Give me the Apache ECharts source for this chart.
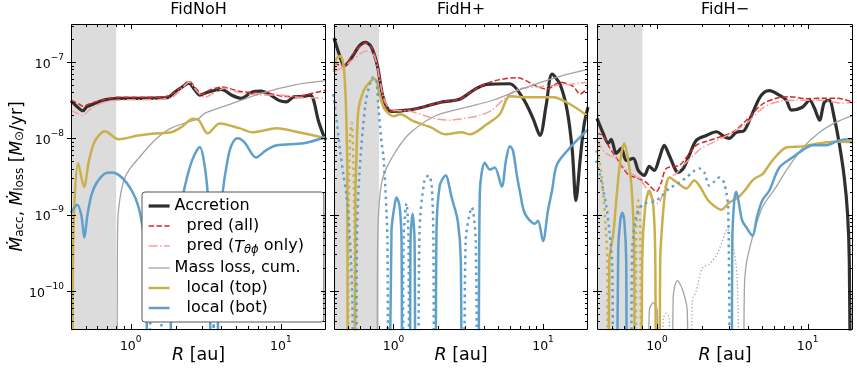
<!DOCTYPE html>
<html lang="en">
<head>
<meta charset="UTF-8" />
<title>Accretion and mass loss</title>
<script src="https://cdn.jsdelivr.net/npm/echarts@6/dist/echarts.min.js"></script>
<style>
  body { margin: 0; background: #fff; }
  #chart { width: 857px; height: 369px; }
</style>
</head>
<body>
<div id="chart"></div>
<script>
// values: [R (au), rate (Msun/yr)]
// 1e-13 = the curve crosses zero here (runs off the bottom of the log axis)
const titles = ['FidNoH', 'FidH+', 'FidH\u2212'];
const rRange = [0.4, 20];
const mRange = [3.16e-11, 3.16e-7];
const shadeR = [0.4, 0.8];
const xMajor = [1, 10];
const xMinor = [0.5, 0.6, 0.7, 0.8, 0.9, 2, 3, 4, 5, 6, 7, 8, 9];
const yMajor = [1e-10, 1e-9, 1e-8, 1e-7];
const yMinor = [4e-11, 5e-11, 6e-11, 7e-11, 8e-11, 9e-11, 2e-10, 3e-10, 4e-10, 5e-10, 6e-10, 7e-10, 8e-10, 9e-10,
  2e-9, 3e-9, 4e-9, 5e-9, 6e-9, 7e-9, 8e-9, 9e-9, 2e-8, 3e-8, 4e-8, 5e-8, 6e-8, 7e-8, 8e-8, 9e-8, 2e-7, 3e-7];

// ---- FidNoH ----
const noh_acc = [[0.4,3.1e-8],[0.44,2.6e-8],[0.48,2.3e-8],[0.51,2.6e-8],[0.56,2.8e-8],[0.67,3.2e-8],[0.81,3.35e-8],[1.16,3.35e-8],[1.58,3.4e-8],[1.78,3.45e-8],[1.95,4.0e-8],[2.2,4.7e-8],[2.44,5.3e-8],[2.68,4.3e-8],[2.89,3.7e-8],[3.21,4.0e-8],[4.03,4.4e-8],[4.69,3.7e-8],[5.46,3.35e-8],[6.35,4.0e-8],[7.39,4.15e-8],[8.34,3.8e-8],[9.7,3.15e-8],[10.9,3.0e-8],[12.2,3.5e-8],[14.2,3.55e-8],[15.7,3.7e-8],[16.5,3.2e-8],[17.8,1.7e-8],[19.5,1.03e-8],[20,9.5e-9]];
const noh_all = [[0.4,3.16e-8],[0.455,2.8e-8],[0.483,2.64e-8],[0.546,2.9e-8],[0.674,3.25e-8],[0.81,3.45e-8],[1.58,3.45e-8],[1.83,3.7e-8],[2.13,4.55e-8],[2.44,5.6e-8],[2.72,4.55e-8],[2.98,3.8e-8],[3.36,4.3e-8],[4.03,4.7e-8],[5.29,4.15e-8],[6.64,4.0e-8],[8.34,3.9e-8],[10.5,3.55e-8],[13.1,3.55e-8],[15.3,3.8e-8],[17.2,4.0e-8],[20,4.3e-8]];
const noh_tphi = [[0.4,2.35e-8],[0.441,2.13e-8],[0.476,2.0e-8],[0.53,2.35e-8],[0.635,2.9e-8],[0.81,3.16e-8],[1.58,3.25e-8],[1.89,3.45e-8],[2.2,4.55e-8],[2.44,5.45e-8],[2.76,4.15e-8],[3.11,3.45e-8],[3.62,4.0e-8],[4.22,4.55e-8],[5.29,4.0e-8],[7.17,3.7e-8],[9.7,3.7e-8],[13.1,3.45e-8],[20,3.36e-8]];
const noh_loss = [[0.808,1e-13],[0.815,3e-10],[0.822,9e-10],[0.846,1.6e-9],[0.9,2.8e-9],[0.97,3.8e-9],[1.13,5.5e-9],[1.44,9.4e-9],[1.86,1.36e-8],[2.84,1.83e-8],[3.11,2.13e-8],[4.41,2.72e-8],[7.39,3.9e-8],[12.2,5.0e-8],[20,5.7e-8]];
const noh_top = [[0.405,1e-13],[0.412,2e-10],[0.422,1.5e-9],[0.446,4.7e-9],[0.489,2.3e-9],[0.527,5.1e-9],[0.58,9.4e-9],[0.674,1.24e-8],[0.83,9.7e-9],[1.12,1.09e-8],[1.44,1.16e-8],[1.86,1.2e-8],[2.17,1.4e-8],[2.6,1.81e-8],[2.84,1.73e-8],[3.26,1.16e-8],[3.91,1.57e-8],[5.29,1.36e-8],[6.45,1.2e-8],[9.4,1.36e-8],[13.1,1.2e-8],[20,1.0e-8]];
const noh_bot = [[0.4,1.06e-9],[0.441,1.35e-9],[0.469,9.7e-10],[0.491,5.0e-10],[0.514,9.7e-10],[0.546,1.78e-9],[0.589,2.56e-9],[0.674,3.46e-9],[0.75,3.57e-9],[0.872,3.07e-9],[1.015,2.07e-9],[1.13,1.24e-9],[1.22,5.3e-10],[1.27,1.8e-10],[1.31,1e-13],[1.72,1e-13],[1.89,2.5e-10],[2.13,1.13e-9],[2.3,2.4e-9],[2.56,5.1e-9],[2.89,7.7e-9],[3.07,5.1e-9],[3.26,1.9e-9],[3.36,6.2e-10],[3.46,1e-13],[3.74,1e-13],[3.85,4.5e-10],[4.09,1.9e-9],[4.41,5.1e-9],[4.69,8.1e-9],[5.13,1.0e-8],[5.71,8.9e-9],[6.84,5.6e-9],[7.96,6.95e-9],[9.4,8.1e-9],[14.2,8.6e-9],[20,1.04e-8]];
const noh_bot_neg = [[1.31,1e-13],[1.35,3.8e-11],[1.48,4.5e-11],[1.6,3.8e-11],[1.65,1e-13],[3.46,1e-13],[3.57,3.8e-11],[3.68,1e-13]];

// ---- FidH+ ----
const hp_acc = [[0.4,2.07e-7],[0.435,1.24e-7],[0.469,8.9e-8],[0.523,1.13e-7],[0.591,1.63e-7],[0.649,1.81e-7],[0.712,1.57e-7],[0.781,8.9e-8],[0.844,3.7e-8],[0.911,2.48e-8],[0.97,2.26e-8],[1.24,2.34e-8],[1.61,2.6e-8],[2.1,3.0e-8],[2.77,3.26e-8],[3.5,4.4e-8],[4.21,5.1e-8],[6.0,5.2e-8],[7.34,3.36e-8],[8.57,1.83e-8],[9.55,1.09e-8],[10.5,2.72e-8],[11.5,6.95e-8],[13.0,5.1e-8],[14.5,2.34e-8],[15.7,6.95e-9],[16.6,1.53e-9],[17.7,5.1e-9],[18.8,1.48e-8],[20,2.56e-8]];
const hp_all = [[0.4,9.7e-8],[0.462,8.9e-8],[0.547,1.35e-7],[0.649,1.78e-7],[0.734,1.44e-7],[0.806,6.75e-8],[0.87,2.8e-8],[0.94,2.26e-8],[1.24,2.34e-8],[1.61,2.6e-8],[2.1,3.0e-8],[2.77,3.26e-8],[3.5,4.4e-8],[4.62,5.6e-8],[6.69,6.25e-8],[9.12,4.8e-8],[10.6,4.4e-8],[13.0,5.45e-8],[15.9,4.8e-8],[17.7,3.8e-8],[20,4.7e-8]];
const hp_tphi = [[0.4,7.6e-8],[0.462,8.6e-8],[0.539,1.09e-7],[0.659,1.4e-7],[0.745,1.2e-7],[0.857,3.46e-8],[0.955,2.41e-8],[1.3,2.26e-8],[1.85,1.83e-8],[2.38,1.73e-8],[3.0,1.83e-8],[3.78,2.0e-8],[4.55,2.34e-8],[5.56,3.36e-8],[6.8,4.4e-8],[10.0,4.8e-8],[15.2,5.1e-8],[17.7,5.3e-8],[20,5.45e-8]];
const hp_loss = [[0.775,1e-13],[0.781,2.5e-10],[0.793,9.7e-10],[0.818,2.07e-9],[0.857,3.26e-9],[0.97,5.46e-9],[1.24,1.09e-8],[1.88,1.95e-8],[2.86,2.48e-8],[4.62,3.16e-8],[7.81,4.7e-8],[13.0,6.5e-8],[20,8.0e-8]];
const hp_top = [[0.4,7.4e-8],[0.414,1.1e-7],[0.44,1.2e-7],[0.462,9.4e-8],[0.476,4.3e-8],[0.484,1.73e-8],[0.491,3.8e-9],[0.499,1e-13],[0.552,1e-13],[0.556,1.53e-9],[0.565,5.6e-9],[0.582,2.34e-8],[0.629,4.15e-8],[0.701,5.6e-8],[0.757,6.0e-8],[0.793,4.3e-8],[0.857,2.56e-8],[0.926,2.13e-8],[1.0,1.95e-8],[1.11,2.07e-8],[1.36,1.68e-8],[1.77,1.4e-8],[2.23,1.13e-8],[2.86,1.2e-8],[3.24,1.13e-8],[4.21,1.53e-8],[5.14,2.07e-8],[6.0,3.57e-8],[7.81,3.46e-8],[11.7,3.46e-8],[15.2,2.8e-8],[20,1.95e-8]];
const hp_top_neg = [[0.495,1e-13],[0.503,1.53e-9],[0.514,1.2e-8],[0.526,1.6e-8],[0.539,5.1e-9],[0.547,6.2e-10],[0.552,1e-13]];
const hp_bot = [[0.93,1e-13],[0.97,6.2e-10],[1.016,1.31e-9],[1.047,1.67e-9],[1.097,1.31e-9],[1.132,4.5e-10],[1.149,1e-13],[1.28,1e-13],[1.3,4.5e-10],[1.342,1.03e-9],[1.383,4.5e-10],[1.427,1e-13],[1.884,1e-13],[1.94,6.2e-10],[2.04,2.41e-9],[2.23,3.26e-9],[2.45,1.67e-9],[2.69,8.3e-10],[2.82,2.5e-10],[2.9,1e-13],[3.66,1e-13],[3.78,2.0e-9],[4.08,4.8e-9],[4.41,3.9e-9],[4.76,4.15e-9],[5.3,2.33e-9],[5.65,5.1e-9],[6.0,7.85e-9],[6.29,6.95e-9],[6.69,3.26e-9],[7.01,2.0e-9],[7.57,1.03e-9],[8.84,7.6e-10],[9.26,8.3e-10],[10.0,4.5e-10],[10.8,1.13e-9],[11.5,2.07e-9],[12.4,4.55e-9],[15.2,7.6e-9],[20,1.31e-8]];
const hp_bot_neg = [[0.396,3.8e-8],[0.414,1.89e-8],[0.44,6.75e-9],[0.462,3.36e-9],[0.484,1.83e-9],[0.507,6.2e-10],[0.531,7.4e-11],[0.539,1e-13],[0.56,1e-13],[0.569,4.5e-10],[0.591,3.36e-9],[0.649,2.8e-8],[0.701,5.45e-8],[0.734,6.35e-8],[0.769,5.6e-8],[0.793,2.56e-8],[0.831,9.1e-9],[0.857,5.6e-9],[0.884,2.07e-9],[0.911,4.5e-10],[0.933,1e-13],[1.149,1e-13],[1.167,4.5e-10],[1.222,1.4e-9],[1.261,4.5e-10],[1.28,1e-13],[1.427,1e-13],[1.494,6.2e-10],[1.61,2.8e-9],[1.718,3.26e-9],[1.8,2.41e-9],[1.85,4.5e-10],[1.884,1e-13],[2.9,1e-13],[3.04,4.5e-10],[3.34,1.24e-9],[3.55,4.5e-10],[3.66,1e-13]];

// ---- FidH- ----
const hm_acc = [[0.4,1.83e-8],[0.44,1.16e-8],[0.475,8.6e-9],[0.497,9.7e-9],[0.537,6.35e-9],[0.58,7.4e-9],[0.625,5.14e-9],[0.696,5.46e-9],[0.751,3.8e-9],[0.824,3.26e-9],[0.889,4.28e-9],[0.96,3.8e-9],[1.036,5.46e-9],[1.118,8.1e-9],[1.207,5.97e-9],[1.384,3.57e-9],[1.495,4.03e-9],[1.637,5.97e-9],[1.823,9.4e-9],[2.125,1.09e-8],[2.477,1.22e-8],[2.8,1.05e-8],[3.02,1.0e-8],[3.36,1.2e-8],[3.8,1.27e-8],[4.3,2.13e-8],[4.78,3.36e-8],[5.16,4.03e-8],[5.57,4.22e-8],[6.49,3.68e-8],[7.22,3.16e-8],[7.8,2.34e-8],[9.22,2.56e-8],[10.3,3.16e-8],[11.1,2.48e-8],[12.0,1.73e-8],[12.9,2.98e-8],[13.9,3.16e-8],[15.0,1.89e-8],[16.2,8.6e-9],[17.5,3.07e-9],[18.4,1.03e-9],[18.9,2.5e-10],[19.5,1e-13]];
const hm_all = [[0.4,1.16e-8],[0.44,1.09e-8],[0.483,7.6e-9],[0.537,5.6e-9],[0.597,4.03e-9],[0.655,3.26e-9],[0.729,3.07e-9],[0.849,2.64e-9],[0.917,2.26e-9],[0.99,2.01e-9],[1.068,2.64e-9],[1.153,4.03e-9],[1.406,4.42e-9],[1.566,5.6e-9],[1.823,8.1e-9],[2.125,9.1e-9],[2.8,1.09e-8],[3.26,1.24e-8],[3.92,1.73e-8],[5.0,2.8e-8],[6.2,3.36e-8],[7.56,3.52e-8],[9.8,3.31e-8],[12.5,3.36e-8],[15.5,3.36e-8],[20,2.98e-8]];
const hm_tphi = [[0.4,9.4e-9],[0.44,6.95e-9],[0.483,5.97e-9],[0.528,5.6e-9],[0.597,4.28e-9],[0.675,3.46e-9],[0.763,2.98e-9],[0.849,2.2e-9],[0.945,1.57e-9],[1.02,1.4e-9],[1.101,1.95e-9],[1.189,2.98e-9],[1.343,3.46e-9],[1.495,4.42e-9],[1.742,5.97e-9],[1.968,7.4e-9],[2.29,8.6e-9],[3.02,1.13e-8],[3.92,1.57e-8],[5.0,2.48e-8],[6.2,2.98e-8],[8.41,3.16e-8],[12.5,3.16e-8],[17.0,2.89e-8],[20,2.98e-8]];
const hm_loss = [[0.86,1e-13],[0.889,5.5e-11],[0.945,7.0e-11],[1.005,5.5e-11],[1.051,1e-13],[1.245,1e-13],[1.283,8.6e-11],[1.364,1.36e-10],[1.472,1.06e-10],[1.589,5.5e-11],[1.637,1e-13],[3.68,1e-13],[3.8,1.0e-10],[3.92,2.26e-10],[4.3,5.0e-10],[5.0,1.24e-9],[6.2,2.33e-9],[7.22,3.8e-9],[9.22,7.4e-9],[12.0,1.2e-8],[15.5,1.63e-8],[20,2.0e-8]];
const hm_loss_neg = [[1.051,1e-13],[1.101,4.3e-11],[1.153,5.1e-11],[1.207,4.3e-11],[1.245,1e-13],[1.637,1e-13],[1.715,7.4e-11],[1.823,1.0e-10],[2.0,2.0e-10],[2.225,2.26e-10],[2.477,2.9e-10],[2.715,4.5e-10],[2.93,6.5e-10],[3.16,4.5e-10],[3.41,1.4e-10],[3.63,1e-13]];
const hm_top = [[0.475,1e-13],[0.483,2.5e-10],[0.513,5.6e-10],[0.537,1.53e-9],[0.571,5.1e-9],[0.607,8.6e-9],[0.645,5.1e-9],[0.675,2.56e-9],[0.696,9.1e-10],[0.707,2.5e-10],[0.718,1e-13],[0.787,1e-13],[0.798,2.5e-10],[0.836,1.31e-9],[0.889,2.07e-9],[0.945,1.31e-9],[0.975,2.5e-10],[0.99,1e-13],[1.036,1e-13],[1.051,2.5e-10],[1.101,1.13e-9],[1.153,2.41e-9],[1.207,3.07e-9],[1.384,2.56e-9],[1.566,2.2e-9],[1.769,2.8e-9],[1.909,2.41e-9],[2.19,1.53e-9],[2.477,1.24e-9],[2.673,1.16e-9],[3.02,1.44e-9],[3.518,1.73e-9],[3.917,2.2e-9],[4.295,2.8e-9],[4.565,3.07e-9],[5.0,3.36e-9],[5.83,5.1e-9],[7.22,7.6e-9],[9.22,7.85e-9],[12.0,8.6e-9],[15.5,9.1e-9],[20,8.9e-9]];
const hm_top_neg = [[0.395,6.95e-9],[0.414,5.1e-9],[0.433,2.8e-9],[0.454,8.3e-10],[0.468,2.5e-10],[0.475,1e-13],[0.718,1e-13],[0.729,6.2e-10],[0.751,1.53e-9],[0.775,6.2e-10],[0.787,1e-13]];
const hm_bot = [[0.537,1e-13],[0.553,3.4e-10],[0.571,8.3e-10],[0.589,1.06e-9],[0.607,8.3e-10],[0.625,2.5e-10],[0.635,1e-13],[3.115,1e-13],[3.163,4.5e-10],[3.26,1.53e-9],[3.363,2.0e-9],[3.518,1.31e-9],[3.683,8.3e-10],[3.977,6.5e-10],[4.295,5.3e-10],[4.635,9.7e-10],[5.0,1.53e-9],[5.57,2.07e-9],[6.49,4.15e-9],[7.91,5.6e-9],[9.22,6.95e-9],[10.8,8.1e-9],[13.3,8.1e-9],[16.2,9.4e-9],[20,9.7e-9]];
const hm_bot_neg = [[0.395,5.1e-9],[0.414,3.57e-9],[0.44,2.07e-9],[0.461,1.31e-9],[0.483,6.2e-10],[0.505,2.1e-10],[0.52,1e-13],[0.655,1e-13],[0.685,3.4e-10],[0.718,8.3e-10],[0.751,1.13e-9],[0.824,1.4e-9],[0.96,1.48e-9],[1.068,1.73e-9],[1.207,2.2e-9],[1.406,2.64e-9],[1.566,3.07e-9],[1.742,3.68e-9],[1.909,4.03e-9],[2.06,3.57e-9],[2.225,2.41e-9],[2.366,2.64e-9],[2.593,3.07e-9],[2.8,2.56e-9],[2.974,1.13e-9],[3.067,1e-13]];

const panels = [
  { acc: noh_acc, all: noh_all, tphi: noh_tphi, loss: noh_loss, lossNeg: null, top: noh_top, topNeg: null, bot: noh_bot, botNeg: noh_bot_neg },
  { acc: hp_acc, all: hp_all, tphi: hp_tphi, loss: hp_loss, lossNeg: null, top: hp_top, topNeg: hp_top_neg, bot: hp_bot, botNeg: hp_bot_neg },
  { acc: hm_acc, all: hm_all, tphi: hm_tphi, loss: hm_loss, lossNeg: hm_loss_neg, top: hm_top, topNeg: hm_top_neg, bot: hm_bot, botNeg: hm_bot_neg }
];

const FONT = 'DejaVu Sans';
const gridLeft = [71, 334, 597];
const gridWidth = [255, 254, 256];
const C = { acc: '#2f2f2f', all: '#d62728', tphi: '#f3a09d', loss: '#a3a3a3', top: '#c9b04b', bot: '#5e9fcb' };
const W = { acc: 3.2, all: 1.5, tphi: 1.5, loss: 1.3, top: 2.5, bot: 2.5 };
const NAMES = ['Accretion', 'pred (all)', 'pred (T\u03b8\u03d5 only)', 'Mass loss, cum.', 'local (top)', 'local (bot)'];
const KEYS = ['acc', 'all', 'tphi', 'loss', 'top', 'bot'];

function powLabel(v) {
  const l = Math.log10(v);
  const e = Math.round(l);
  if (Math.abs(l - e) > 1e-6) return '';
  return '{b|10}{e|' + (e < 0 ? '\u2212' + (-e) : e) + '}';
}
const powRich = {
  b: { fontFamily: FONT, fontSize: 12.5, lineHeight: 18, verticalAlign: 'bottom', color: '#000' },
  e: { fontFamily: FONT, fontSize: 9, lineHeight: 12, verticalAlign: 'top', color: '#000' }
};

function line(name, data, i, color, width, dash, z) {
  return {
    type: 'line', name: name, data: data, xAxisIndex: i, yAxisIndex: i,
    symbol: 'none', showSymbol: false, smooth: 0.3, clip: true, z: z || 2, silent: true,
    lineStyle: { color: color, width: width, type: dash || 'solid' },
    itemStyle: { color: color }, emphasis: { disabled: true }
  };
}

// ticks and frame, drawn through the axis scales
function tickSeries(i, kind) {
  const data = kind === 'x'
    ? xMajor.map(v => [v, 1e-9, 1]).concat(xMinor.map(v => [v, 1e-9, 0]))
    : yMajor.map(v => [1, v, 1]).concat(yMinor.map(v => [1, v, 0]));
  return {
    type: 'custom', xAxisIndex: i, yAxisIndex: i, silent: true, z: 10, data: data,
    encode: { x: 0, y: 1 },
    renderItem: function (params, api) {
      const cs = params.coordSys;
      const p = api.coord([api.value(0), api.value(1)]);
      const major = api.value(2) === 1;
      const len = major ? 5 : 3;
      const st = { stroke: '#000', lineWidth: 1 };
      if (kind === 'x') {
        const x = Math.round(p[0]) + 0.5;
        const yb = cs.y + cs.height, yt = cs.y;
        return { type: 'group', children: [
          { type: 'line', shape: { x1: x, y1: yb, x2: x, y2: yb - len }, style: st },
          { type: 'line', shape: { x1: x, y1: yt, x2: x, y2: yt + len }, style: st }
        ] };
      }
      const y = Math.round(p[1]) + 0.5;
      const xl = cs.x, xr = cs.x + cs.width;
      return { type: 'group', children: [
        { type: 'line', shape: { x1: xl - (major ? 4 : 0), y1: y, x2: xl + len, y2: y }, style: st },
        { type: 'line', shape: { x1: xr, y1: y, x2: xr - len, y2: y }, style: st }
      ] };
    }
  };
}
function frameSeries(i) {
  return {
    type: 'custom', xAxisIndex: i, yAxisIndex: i, silent: true, z: 11, data: [[1, 1e-9]],
    renderItem: function (params) {
      const cs = params.coordSys;
      return { type: 'rect', shape: { x: cs.x + 0.5, y: cs.y + 0.5, width: cs.width - 1, height: cs.height },
        style: { fill: 'none', stroke: '#000', lineWidth: 1 } };
    }
  };
}

const option = {
  animation: false,
  backgroundColor: '#fff',
  grid: [], xAxis: [], yAxis: [], series: [],
  legend: {
    data: NAMES.map((n, k) => ({ name: n, lineStyle: { width: W[KEYS[k]] } })),
    orient: 'vertical', left: 142, top: 192,
    itemWidth: 21, itemHeight: 12, itemGap: 4, selectedMode: false,
    itemStyle: { opacity: 0 },
    padding: [6, 20, 6, 5], backgroundColor: '#fff', borderColor: '#555', borderWidth: 1, borderRadius: 3,
    textStyle: {
      fontFamily: FONT, fontSize: 16, color: '#000',
      rich: {
        n: { fontFamily: FONT, fontSize: 16, color: '#000' },
        ind: { fontFamily: FONT, fontSize: 16, color: '#000', padding: [0, 0, 0, 12] },
        it: { fontFamily: FONT, fontSize: 16, fontStyle: 'italic', color: '#000', lineHeight: 20, verticalAlign: 'bottom' },
        sub: { fontFamily: FONT, fontSize: 11.5, fontStyle: 'italic', color: '#000', lineHeight: 13, verticalAlign: 'bottom' }
      }
    },
    formatter: function (name) {
      if (name === NAMES[0] || name === NAMES[3]) return '{n|' + name + '}';
      if (name === NAMES[2]) return '{ind|pred (}{it|T}{sub|\u03b8\u03d5}{n| only)}';
      return '{ind|' + name + '}';
    }
  }
};

panels.forEach(function (p, i) {
  option.grid.push({ left: gridLeft[i], width: gridWidth[i], top: 24, height: 305, show: false,
    containLabel: false, outerBoundsMode: 'none' });
  option.xAxis.push({
    type: 'log', logBase: 10, gridIndex: i, min: rRange[0], max: rRange[1],
    axisLine: { show: false }, axisTick: { show: false }, splitLine: { show: false },
    axisLabel: { formatter: powLabel, rich: powRich, margin: 6 },
    name: '{i|R}{n| [au]}', nameLocation: 'middle', nameGap: 17, nameMoveOverlap: false,
    nameTextStyle: { rich: {
      i: { fontFamily: FONT, fontSize: 17.5, fontStyle: 'italic', color: '#000' },
      n: { fontFamily: FONT, fontSize: 17.5, color: '#000' }
    } }
  });
  option.yAxis.push({
    type: 'log', logBase: 10, gridIndex: i, min: mRange[0], max: mRange[1],
    axisLine: { show: false }, axisTick: { show: false }, splitLine: { show: false },
    axisLabel: { show: i === 0, formatter: powLabel, rich: powRich, margin: 7 },
    name: i === 0 ? '{m|\u1e40}{s|acc}{n|, }{m|\u1e40}{s|loss}{n| [}{m|M}{s|\u2299}{n|/yr]}' : '',
    nameLocation: 'middle', nameGap: 45, nameMoveOverlap: false,
    nameTextStyle: { rich: {
      m: { fontFamily: FONT, fontSize: 17, fontStyle: 'italic', color: '#000', lineHeight: 22, verticalAlign: 'bottom' },
      n: { fontFamily: FONT, fontSize: 17, color: '#000', lineHeight: 22, verticalAlign: 'bottom' },
      s: { fontFamily: FONT, fontSize: 12, color: '#000', lineHeight: 12, verticalAlign: 'bottom' }
    } }
  });

  // grey band of the inner region
  option.series.push({
    type: 'line', name: 'shade' + i, xAxisIndex: i, yAxisIndex: i, z: 1, silent: true,
    data: shadeR.map(r => [r, 1e-9]), symbol: 'none', lineStyle: { opacity: 0 },
    markArea: { silent: true, itemStyle: { color: '#dcdcdc' }, data: [[{ xAxis: shadeR[0] }, { xAxis: shadeR[1] }]] }
  });
  option.series.push(line(NAMES[0], p.acc, i, C.acc, W.acc));
  option.series.push(line(NAMES[1], p.all, i, C.all, W.all, [5.5, 2.4]));
  option.series.push(line(NAMES[2], p.tphi, i, C.tphi, W.tphi, [9, 2.4, 1.5, 2.4]));
  option.series.push(line(NAMES[3], p.loss, i, C.loss, W.loss));
  if (p.lossNeg) option.series.push(line('loss neg' + i, p.lossNeg, i, C.loss, W.loss, [1.3, 2.2]));
  option.series.push(line(NAMES[4], p.top, i, C.top, W.top));
  if (p.topNeg) option.series.push(line('top neg' + i, p.topNeg, i, C.top, W.top, [2.5, 4]));
  option.series.push(line(NAMES[5], p.bot, i, C.bot, W.bot));
  if (p.botNeg) option.series.push(line('bot neg' + i, p.botNeg, i, C.bot, W.bot, [2.5, 4]));
  option.series.push(tickSeries(i, 'x'), tickSeries(i, 'y'), frameSeries(i));
});

// titles as names of invisible top axes so they centre on each panel
titles.forEach(function (t, i) {
  option.xAxis.push({
    type: 'value', gridIndex: i, position: 'top', min: 0, max: 1, show: true,
    axisLine: { show: false }, axisTick: { show: false }, axisLabel: { show: false }, splitLine: { show: false },
    name: t, nameLocation: 'middle', nameGap: 6,
    nameTextStyle: { fontFamily: FONT, fontSize: 16, color: '#000' }
  });
});

const chart = echarts.init(document.getElementById('chart'), null, { renderer: 'canvas' });
chart.setOption(option);
</script>
</body>
</html>
